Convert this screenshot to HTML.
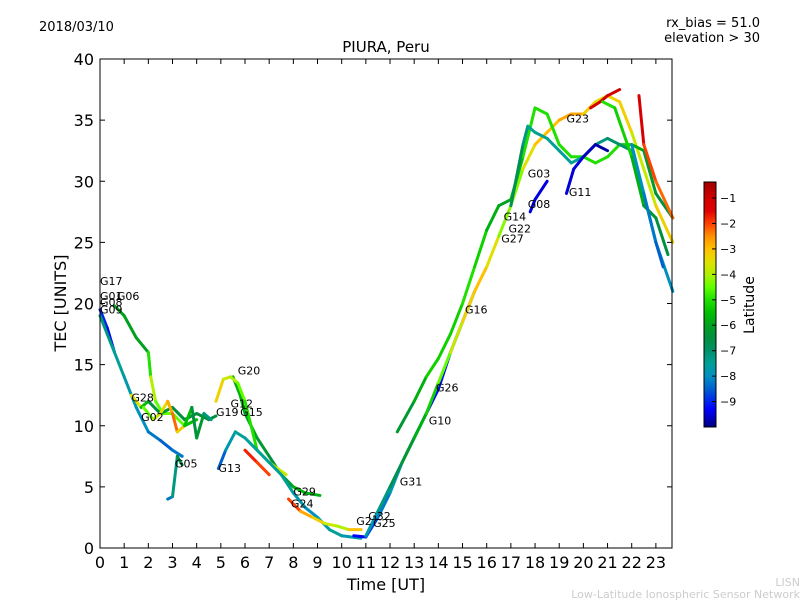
<!DOCTYPE html>
<html><head><meta charset="utf-8"><style>
body{margin:0;background:#fff;}
svg{font-family:"DejaVu Sans","Liberation Sans",sans-serif;}
</style></head><body>
<svg id="chart" width="800" height="600" xmlns="http://www.w3.org/2000/svg">
<rect width="800" height="600" fill="#fff"/>
<text x="39" y="31" font-size="13">2018/03/10</text>
<text x="760" y="27" font-size="13" text-anchor="end">rx_bias = 51.0</text>
<text x="760" y="42" font-size="13" text-anchor="end">elevation &gt; 30</text>
<text x="386" y="52" font-size="15" text-anchor="middle">PIURA, Peru</text>
<g id="marks"></g>
<g id="labels"></g>
<rect x="100" y="59" width="572" height="489" fill="none" stroke="#000" stroke-width="1"/>
<g id="axes"></g>
<text x="386" y="590" font-size="16" text-anchor="middle">Time [UT]</text>
<text x="66" y="303" font-size="16" text-anchor="middle" transform="rotate(-90 66 303)">TEC [UNITS]</text>
<defs><linearGradient id="jet" x1="0" y1="1" x2="0" y2="0"></linearGradient></defs>
<rect x="704" y="182" width="12" height="245" fill="url(#jet)" stroke="#000" stroke-width="1"/>
<g id="cbticks"></g>
<text x="754" y="305" font-size="14" text-anchor="middle" transform="rotate(-90 754 305)">Latitude</text>
<text x="800" y="586" font-size="11" fill="#ccc" text-anchor="end">LISN</text>
<text x="800" y="598" font-size="11" fill="#ccc" text-anchor="end">Low-Latitude Ionospheric Sensor Network</text>
</svg>
<script>
const xTicks=[0,1,2,3,4,5,6,7,8,9,10,11,12,13,14,15,16,17,18,19,20,21,22,23];
const yTicks=[0,5,10,15,20,25,30,35,40];
const cbTicks=[-1,-2,-3,-4,-5,-6,-7,-8,-9];
const satNames=["G09","G06","G01","G28","G02","G05","G20","G12","G13","G19","G24","G32","G25","G10","G26","G16","G03","G11","G23","G22","G27"];
const satTimes=[
[0,0.3,0.6],
[0.6,1,1.5,2,2.1,2.3,2.6,3,3.5,4],
[0,0.5,1,1.5,2,2.5,3,3.4],
[1.3,1.7,2,2.5,3,3.5,4,4.5,4.8],
[1.8,2.2,2.5,2.8,3,3.2,3.5,3.8,4,4.3,4.6],
[2.8,3,3.2,3.4],
[5.5,5.8,6,6.5,7,7.5,8,8.5,9.1],
[4.8,5.1,5.4,5.7,6,6.5,7,7.7],
[4.9,5.2,5.6,6,6.5,7,7.5,8,8.5,9,9.5,10,10.8],
[6,6.5,7],
[7.8,8.3,8.8,9.3,9.8,10.3,10.8],
[10.5,11,11.5,12,12.5,13,13.5,14,14.5,15,15.5],
[11,11.5,12,12.5,13,13.5,14,14.5,15,15.5,16,16.5,17,17.5,18,18.5,19,19.5,20,20.5,21,21.5,22,22.5,23,23.7],
[12.3,13,13.5,14,14.5,15,15.5,16,16.5,17,17.5,18,18.5,19,19.5,20,20.5,21,21.5,22,22.5,23,23.7],
[17,17.5,17.7,18,18.5,19,19.5,20,20.5,21,21.5,22,22.5,23,23.7],
[19.3,19.6,20,20.5,21],
[20.3,20.7,21,21.5],
[22.3,22.5,23,23.7],
[20.8,21.3,22,22.5,23,23.5],
[22,22.5,23,23.3],
[17.8,18,18.5]];
const satTec=[
[19.5,18,16],
[19.8,19,17.2,16,14,12,11,11,10,10.5],
[19,16.5,14,11.5,9.5,8.8,8,7.5],
[12.5,11.5,12,11,11.5,10.5,11,10.5,10.8],
[11.5,10.5,11,12,11,9.5,10,11.5,9,11,10.5],
[4,4.2,7.5,6.8],
[14,12.5,11,9,7.5,6,5,4.5,4.3],
[12,13.8,14,13.5,12,8,7,6],
[6.5,8,9.5,9,8,7,6,4.5,3.3,2.5,1.5,1,0.8],
[8,7,6],
[4,3,2.5,2,1.8,1.5,1.5],
[1,0.9,2.5,4.5,7,9,11,13,16,18.5,21],
[1,3,5,7,9,11,13.5,16,18.5,21,23,25.5,28,31,33,34,35,35.5,35.5,36.5,37,36.5,34,31,28,25],
[9.5,12,14,15.5,17.5,20,23,26,28,28.5,32,36,35.5,33,32,32,31.5,32,33,33,32.5,29,27],
[28,33,34.5,34,33.5,32.5,31.5,32,33,33.5,33,32.5,29,25,21],
[29,31,32,33,32.5],
[36,36.5,37,37.5],
[37,33,30,27],
[36.5,36,32,28,27,24],
[33,29,25,23],
[27.5,28.5,30]];
const satLat=[
[-9,-9,-9.5],
[-6,-6,-6,-6,-4,-4,-5,-4,-5,-6],
[-7,-7.5,-7.5,-8,-8,-8.5,-8.5,-8],
[-2,-5,-6,-7,-6,-7,-6,-7,-6],
[-5,-4,-3.5,-3.5,-2,-2.5,-4,-7,-6,-6.5,-8],
[-8,-8.5,-6,-7],
[-6,-5.5,-6,-6,-6.5,-6.5,-6,-5.5,-6],
[-3,-3.5,-4,-4,-5,-5,-4,-3.5],
[-9,-8,-7.5,-7.5,-7.5,-7.5,-7.5,-7.5,-8,-8,-7.5,-7.5,-8],
[-1.5,-2,-2],
[-1.5,-2.5,-3,-3.5,-4,-4,-2],
[-9.5,-9,-8.5,-8,-7.5,-7.5,-9,-9.5,-9,-9,-8],
[-8,-7.5,-7,-6.5,-6,-5.5,-5,-4,-3.5,-3,-3,-4,-4.5,-4,-3,-3,-3,-2.5,-3,-3.5,-3.5,-3,-3.5,-4,-3.5,-3],
[-6.5,-6,-5.5,-5,-5.5,-5,-5,-5.5,-6,-6,-5,-5,-5,-5,-5,-5,-5,-5,-5,-5.5,-6,-6.5,-6.5],
[-6.5,-7,-7.5,-7.5,-7.5,-7.5,-7.5,-7.5,-7.5,-7,-7,-7,-7.5,-8,-8],
[-9.5,-9.5,-9.5,-9.8,-9.8],
[-1.5,-1,-1,-1],
[-1,-1.5,-2.5,-2],
[-5,-5,-5.5,-6,-6.5,-6.5],
[-8,-8,-8.5,-8.5],
[-9.5,-9.5,-9.5]];
const labelNames=["G17","G01","G06","G08","G09","G28","G02","G05","G20","G19","G12","G15","G13","G29","G24","G2","G32","G25","G31","G10","G26","G16","G14","G22","G27","G03","G08","G11","G23"];
const labelT=[0,0,0.7,0,0,1.3,1.7,3.1,5.7,4.8,5.4,5.8,4.9,8,7.9,10.6,11.1,11.3,12.4,13.6,13.9,15.1,16.7,16.9,16.6,17.7,17.7,19.4,19.3];
const labelV=[21.5,20.3,20.3,19.8,19.2,12,10.4,6.6,14.2,10.8,11.5,10.8,6.2,4.3,3.3,1.9,2.3,1.7,5.1,10.1,12.8,19.2,26.8,25.8,25,30.3,27.8,28.8,34.8];
const NS="http://www.w3.org/2000/svg";
const x0=100,x1=672,xmax=23.667,y0=548,y1=59,ymax=40;
function sx(t){return x0+(x1-x0)*t/xmax;}
function sy(v){return y0-(y0-y1)*v/ymax;}
const vmin=-10,vmax=-0.37;
const cmap=[[-10,[0,0,128]],[-9.3,[0,0,255]],[-8.5,[0,96,208]],[-8,[0,144,192]],[-7.5,[0,160,150]],[-7,[0,144,106]],[-6.5,[0,144,64]],[-6,[0,160,32]],[-5.5,[0,192,0]],[-5,[32,224,0]],[-4.5,[96,255,0]],[-4,[176,240,0]],[-3.5,[224,224,0]],[-3,[255,192,0]],[-2.5,[255,144,0]],[-2,[255,64,0]],[-1.5,[224,0,0]],[-1,[208,0,0]],[-0.37,[160,0,0]]];
function jet(lat){lat=Math.max(vmin,Math.min(vmax,lat));
 for(let i=0;i<cmap.length-1;i++){const a=cmap[i],b=cmap[i+1];if(lat<=b[0]){const f=(lat-a[0])/(b[0]-a[0]);const c=a[1].map((v,k)=>Math.round(v+(b[1][k]-v)*f));return `rgb(${c[0]},${c[1]},${c[2]})`;}}
 return 'rgb(160,0,0)';}
function mk(tag,attrs,parent){const e=document.createElementNS(NS,tag);for(const k in attrs)e.setAttribute(k,attrs[k]);parent.appendChild(e);return e;}
const grad=document.getElementById('jet');
cmap.forEach(s=>{mk('stop',{offset:(s[0]-vmin)/(vmax-vmin),'stop-color':jet(s[0])},grad);});
const marks=document.getElementById('marks');
satTimes.forEach((ts,i)=>{
 const g=mk('g',{},marks);
 
 
 for(let j=0;j<ts.length-1;j++){
  const l=mk('line',{x1:sx(ts[j]),y1:sy(satTec[i][j]),x2:sx(ts[j+1]),y2:sy(satTec[i][j+1]),stroke:jet((satLat[i][j]+satLat[i][j+1])/2),'stroke-width':3,'stroke-linecap':'round'},g);
  
  
 }
});
const labels=document.getElementById('labels');
labelNames.forEach((n,i)=>{
 const t=mk('text',{x:sx(labelT[i]),y:sy(labelV[i]),'font-size':11},labels);
 t.textContent=n;
 
 
});
const axes=document.getElementById('axes');
xTicks.forEach(v=>{
 const X=sx(v);
 mk('line',{x1:X,y1:y0,x2:X,y2:y0-5,stroke:'#000'},axes);
 mk('line',{x1:X,y1:y1,x2:X,y2:y1+5,stroke:'#000'},axes);
 const t=mk('text',{x:X,y:568,'font-size':16,'text-anchor':'middle'},axes);
 t.textContent=v;
 
 
});
yTicks.forEach(v=>{
 const Y=sy(v);
 mk('line',{x1:x0,y1:Y,x2:x0+5,y2:Y,stroke:'#000'},axes);
 mk('line',{x1:x1,y1:Y,x2:x1-5,y2:Y,stroke:'#000'},axes);
 const t=mk('text',{x:94,y:Y+6,'font-size':16,'text-anchor':'end'},axes);
 t.textContent=v;
 
 
});
const cbt=document.getElementById('cbticks');
cbTicks.forEach(v=>{
 const Y=182+245*(vmax-v)/(vmax-vmin);
 mk('line',{x1:712,y1:Y,x2:716,y2:Y,stroke:'#000'},cbt);
 const t=mk('text',{x:720,y:Y+4,'font-size':11},cbt);
 t.textContent='\u2212'+Math.abs(v);
 
 
});
</script>
</body></html>
